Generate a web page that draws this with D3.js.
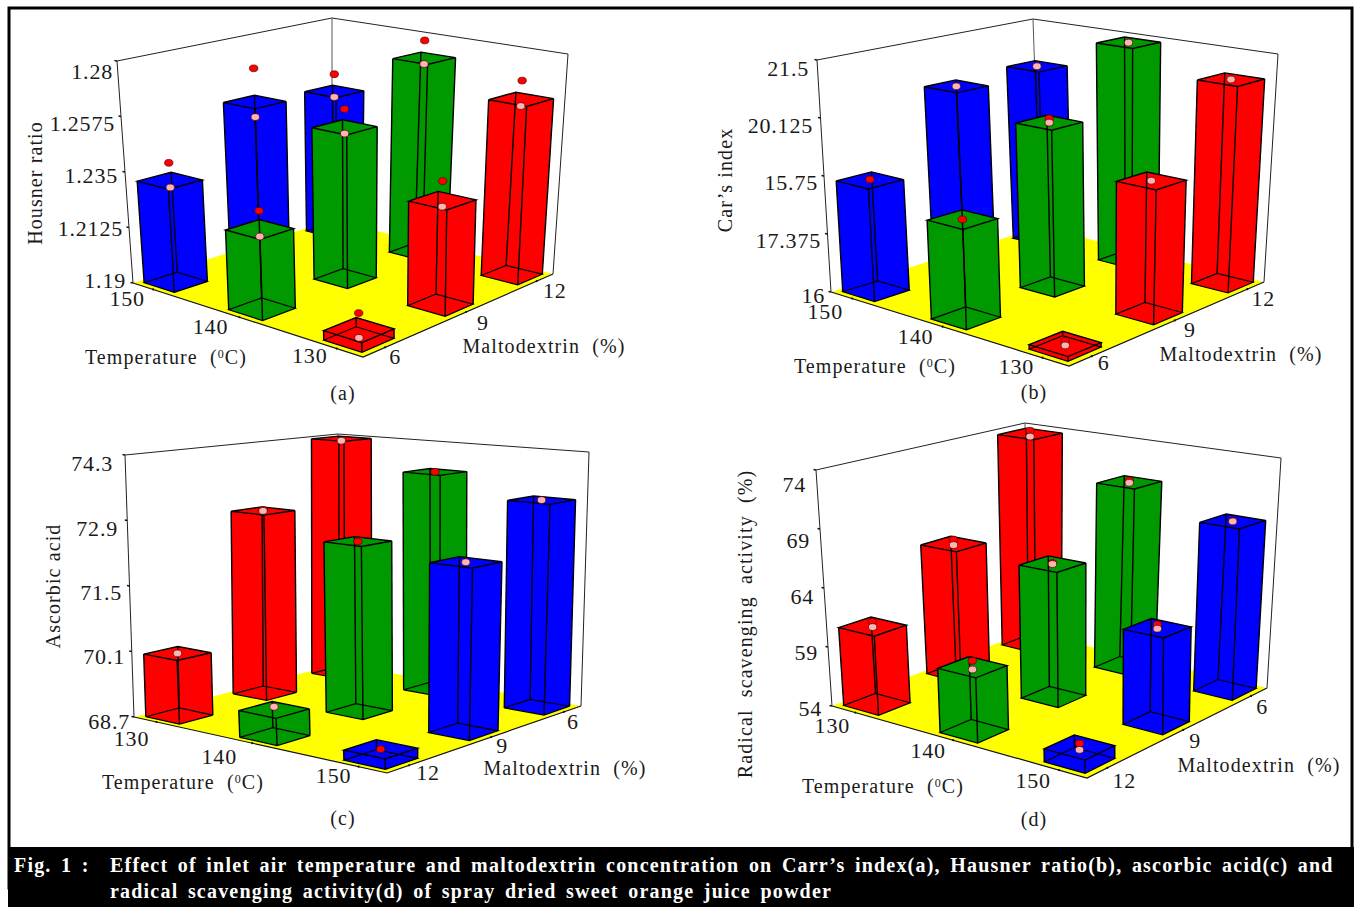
<!DOCTYPE html>
<html>
<head>
<meta charset="utf-8">
<style>
  html, body { margin: 0; padding: 0; background: #fff; }
  svg { display: block; }
  text { font-family: "Liberation Serif", serif; fill: #1a1a1a; }
</style>
<script src="https://d3js.org/d3.v7.min.js"></script>
</head>
<body>
<svg id="chart" width="1354" height="907"></svg>
<script>
// Values. Rows = temperature in axis order, columns = maltodextrin in axis order.
var tempDesc = [150, 140, 130];
var tempAsc = [130, 140, 150];
var maltoAsc = [6, 9, 12];
var maltoDesc = [12, 9, 6];

var housnerTicks = ["1.19", "1.2125", "1.235", "1.2575", "1.28"];
var housnerBars = [[1.2312, 1.2546, 1.251], [1.221, 1.2516, 1.272], [1.1935, 1.2308, 1.2618]];
var housnerHigh = [[1.2384, 1.2688, 1.2585], [1.2282, 1.259, 1.2795], [1.1997, 1.2384, 1.2694]];
var housnerLow = [[1.2284, 1.2482, 1.2485], [1.2182, 1.249, 1.2695], [1.1905, 1.2284, 1.259]];

var carrTicks = ["16", "17.375", "15.75", "20.125", "21.5"]; // as printed in the figure
var carrBars = [[18.63, 20.39, 20.45], [18.25, 19.93, 21.42], [16.1, 19.05, 20.9]];
var carrHigh = [[18.65, null, null], [18.25, 20.03, null], [16.16, null, null]];
var carrLow = [[null, 20.39, 20.45], [null, 19.93, 21.42], [16.06, 19.05, 20.9]];

var ascorbicTicks = ["68.7", "70.1", "71.5", "72.9", "74.3"];
var ascorbicBars = [[70.04, 72.82, 74.27], [69.25, 72.39, 73.67], [68.9, 72.23, 73.25]];
var ascorbicHigh = [[null, 72.84, null], [null, 72.39, 73.67], [68.9, null, null]];
var ascorbicLow = [[70.04, 72.82, 74.22], [69.31, null, null], [null, 72.23, 73.25]];

var radicalTicks = ["54", "59", "64", "69", "74"];
var radicalBars = [[60.6, 65.5, 73.7], [59.2, 65.4, 70.6], [55.0, 61.8, 68.6]];
var radicalHigh = [[61.0, 65.9, 74.0], [59.7, 65.5, 70.75], [55.3, 62.1, 68.65]];
var radicalLow = [[60.55, 65.4, 73.45], [59.0, 65.4, 70.55], [54.8, 61.75, 68.6]];

var barColors = { 130: "#ff0000", 140: "#009900", 150: "#0000ff" };

// page layout of each panel: corners of the floor and of the plane above it
var panels = [
  {
    title: "Housner ratio", tag: "(a)", temps: tempDesc, maltos: maltoAsc, ticks: housnerTicks,
    bars: housnerBars, high: housnerHigh, low: housnerLow,
    floor: [[133, 283], [363, 357], [553, 274], [332, 220]],
    roof: [[117, 61], [360, 108], [568, 54], [332, 18]],
    tickDx: [-7, -6, -7, -6, -4], tickDy: [-3, 1, 3, 7, 10],
    tempOff: [[-26, 9], [-29, 9], [-27, 7]], maltoOff: [[10, 9], [17, 10], [18, 9]],
    titlePos: [35, 183], tempPos: [166, 357], maltoPos: [544, 346], tagPos: [343, 393]
  },
  {
    title: "Car\u2019s index", tag: "(b)", temps: tempDesc, maltos: maltoAsc, ticks: carrTicks,
    bars: carrBars, high: carrHigh, low: carrLow,
    floor: [[831, 292], [1069, 366], [1264, 282], [1040, 227]],
    roof: [[817, 60], [1068, 108], [1278, 54], [1033, 19]],
    tickDx: [-6, -6.5, -6, -7.5, -8], tickDy: [3, 6, 6, 7, 8],
    tempOff: [[-27, 13], [-27, 10], [-26, 9]], maltoOff: [[12, 6], [15, 9], [16, 9]],
    titlePos: [725, 180], tempPos: [875, 366], maltoPos: [1241, 354], tagPos: [1034, 392]
  },
  {
    title: "Ascorbic acid", tag: "(c)", temps: tempAsc, maltos: maltoDesc, ticks: ascorbicTicks,
    bars: ascorbicBars, high: ascorbicHigh, low: ascorbicLow,
    floor: [[134, 717], [387, 773], [581, 706], [338, 664]],
    roof: [[125, 455], [385, 482], [589, 452], [338, 434]],
    tickDx: [-4, -6.75, -7.5, -9.25, -12], tickDy: [4, 4.5, 6, 7.5, 8],
    tempOff: [[-25, 16], [-33, 13], [-25, 9]], maltoOff: [[19, 7], [11, 8.5], [9, 9]],
    titlePos: [53, 586], tempPos: [183, 782], maltoPos: [565, 768], tagPos: [343, 818]
  },
  {
    title: "Radical  scavenging  activity  (%)", tag: "(d)", temps: tempAsc, maltos: maltoDesc, ticks: radicalTicks,
    bars: radicalBars, high: radicalHigh, low: radicalLow,
    floor: [[832, 706], [1087, 778], [1267, 688], [1027, 632]],
    roof: [[816, 470], [1083, 512], [1281, 458], [1025, 423]],
    tickDx: [-10, -10, -10, -10, -10], tickDy: [2, 5, 8, 11, 14],
    tempOff: [[-23, 13], [-25, 10], [-26, 10]], maltoOff: [[17, 12], [12, 10], [11, 10]],
    titlePos: [745, 624], tempPos: [883, 786], maltoPos: [1259, 765], tagPos: [1034, 819]
  }
];

var captionHead = "Fig. 1 :";
var captionLines = [
  "Effect of inlet air temperature and maltodextrin concentration on Carr\u2019s index(a), Hausner ratio(b), ascorbic acid(c) and",
  "radical scavenging activity(d) of spray dried sweet orange juice powder"
];

var svg = d3.select("#chart");
var line = d3.line();

// unit square -> quadrilateral, keeps the perspective of the original plot
function squareToQuad(q) {
  var dx1 = q[1][0] - q[2][0], dx2 = q[3][0] - q[2][0], sx = q[0][0] - q[1][0] + q[2][0] - q[3][0];
  var dy1 = q[1][1] - q[2][1], dy2 = q[3][1] - q[2][1], sy = q[0][1] - q[1][1] + q[2][1] - q[3][1];
  var det = dx1 * dy2 - dx2 * dy1;
  var g = (sx * dy2 - dx2 * sy) / det, h = (dx1 * sy - sx * dy1) / det;
  var a = q[1][0] - q[0][0] + g * q[1][0], b = q[3][0] - q[0][0] + h * q[3][0];
  var d = q[1][1] - q[0][1] + g * q[1][1], e = q[3][1] - q[0][1] + h * q[3][1];
  return function(u, v) {
    var t = g * u + h * v + 1;
    return [(a * u + b * v + q[0][0]) / t, (d * u + e * v + q[0][1]) / t];
  };
}

function drawPanel(p) {
  var g = svg.append("g");
  var floorAt = squareToQuad(p.floor), roofAt = squareToQuad(p.roof);
  var lo = +p.ticks[0], hi = +p.ticks[p.ticks.length - 1];
  var z = d3.scaleLinear().domain([lo, hi]).range([0, 1]);
  var tickZ = d3.scalePoint().domain(p.ticks).range([0, 1]);
  var x = d3.scalePoint().domain(p.temps).range([0.1, 0.9]);
  var y = d3.scalePoint().domain(p.maltos).range([0.1, 0.9]);
  var half = 0.074;

  function project(u, v, w) {
    var a = floorAt(u, v), b = roofAt(u, v);
    return [a[0] + (b[0] - a[0]) * w, a[1] + (b[1] - a[1]) * w];
  }

  // walls
  g.append("path").attr("d", line([p.floor[0], p.roof[0], p.roof[3], p.roof[2], p.floor[2]]))
    .attr("fill", "#fff").attr("stroke", "#222").attr("stroke-width", 1);
  g.append("path").attr("d", line([p.roof[3], p.floor[3]]))
    .attr("stroke", "#555").attr("stroke-width", 1);

  // floor
  g.append("path").attr("d", line(p.floor) + "Z").attr("fill", "#ffff00");
  g.append("path").attr("d", line([p.floor[0], p.floor[1], p.floor[2]]))
    .attr("fill", "none").attr("stroke", "#111").attr("stroke-width", 1.2);

  // value axis ticks and labels
  p.ticks.forEach(function(t, i) {
    var pt = project(0, 0, tickZ(t));
    g.append("path").attr("d", line([pt, [pt[0] - 2.5, pt[1] - 0.5]]))
      .attr("stroke", "#111").attr("stroke-width", 1.4);
    g.append("text").attr("class", "tick").attr("x", pt[0] + p.tickDx[i]).attr("y", pt[1] + p.tickDy[i])
      .attr("dy", "0.35em").attr("text-anchor", "end").text(t);
  });

  // floor ticks and category labels
  p.temps.forEach(function(t, i) {
    var pt = floorAt(x(t), 0);
    g.append("circle").attr("cx", pt[0]).attr("cy", pt[1]).attr("r", 1.1).attr("fill", "#111");
    g.append("text").attr("class", "tick").attr("x", pt[0] + p.tempOff[i][0]).attr("y", pt[1] + p.tempOff[i][1])
      .attr("dy", "0.35em").attr("text-anchor", "middle").text(t);
  });
  p.maltos.forEach(function(m, i) {
    var pt = floorAt(1, y(m));
    g.append("circle").attr("cx", pt[0]).attr("cy", pt[1]).attr("r", 1.1).attr("fill", "#111");
    g.append("text").attr("class", "tick").attr("x", pt[0] + p.maltoOff[i][0]).attr("y", pt[1] + p.maltoOff[i][1])
      .attr("dy", "0.35em").attr("text-anchor", "middle").text(m);
  });

  // bars, far ones first
  p.temps.forEach(function(t, i) {
    d3.range(p.maltos.length - 1, -1, -1).forEach(function(j) {
      var m = p.maltos[j], u = x(t), v = y(m), w = z(p.bars[i][j]);
      var c = [[u - half, v - half], [u + half, v - half], [u + half, v + half], [u - half, v + half]];
      var base = c.map(function(o) { return project(o[0], o[1], 0); });
      var top = c.map(function(o) { return project(o[0], o[1], w); });

      g.append("path").attr("d", line(d3.polygonHull(base.concat(top))) + "Z").attr("fill", barColors[t]);
      g.append("path").attr("d", line(base) + "Z").attr("fill", "none").attr("stroke", "#000").attr("stroke-width", 1.2);
      g.append("path").attr("d", line(top) + "Z").attr("fill", "none").attr("stroke", "#000").attr("stroke-width", 1.4);
      base.forEach(function(b, k) {
        g.append("path").attr("d", line([b, top[k]])).attr("stroke", "#000").attr("stroke-width", 1.4);
      });

      [[p.high[i][j], "#ff0000"], [p.low[i][j], "#ffb4b4"]].forEach(function(dot) {
        if (dot[0] === null) return;
        var pt = project(u, v, z(dot[0]));
        g.append("ellipse").attr("cx", pt[0]).attr("cy", pt[1]).attr("rx", 4.2).attr("ry", 3.4)
          .attr("fill", dot[1]).attr("stroke", "#500").attr("stroke-width", 0.7);
      });
    });
  });

  // titles
  g.append("text").attr("class", "label").attr("text-anchor", "middle").attr("dy", "0.35em")
    .attr("transform", "translate(" + p.titlePos + ") rotate(-90)").text(p.title);
  var tempTitle = g.append("text").attr("class", "label").attr("text-anchor", "middle").attr("dy", "0.35em")
    .attr("x", p.tempPos[0]).attr("y", p.tempPos[1]);
  tempTitle.append("tspan").text("Temperature  (");
  tempTitle.append("tspan").attr("font-size", 12).attr("dy", -6).text("0");
  tempTitle.append("tspan").attr("dy", 6).text("C)");
  g.append("text").attr("class", "label").attr("text-anchor", "middle").attr("dy", "0.35em")
    .attr("x", p.maltoPos[0]).attr("y", p.maltoPos[1]).text("Maltodextrin  (%)");
  g.append("text").attr("class", "label").attr("text-anchor", "middle").attr("dy", "0.35em")
    .attr("x", p.tagPos[0]).attr("y", p.tagPos[1]).text(p.tag);
}

// frame
svg.append("rect").attr("x", 9).attr("y", 8).attr("width", 1343).attr("height", 880)
  .attr("fill", "#fff").attr("stroke", "#000").attr("stroke-width", 3);

panels.forEach(drawPanel);

svg.selectAll("text.tick").attr("font-size", 22).attr("letter-spacing", 0.8);
svg.selectAll("text.label").attr("font-size", 20).attr("letter-spacing", 1.1).style("white-space", "pre");

// caption bar
svg.append("rect").attr("x", 8).attr("y", 847).attr("width", 1346).attr("height", 60).attr("fill", "#000");
var caption = svg.append("g").attr("font-weight", "bold").attr("font-size", 20).attr("letter-spacing", 1.2);
caption.append("text").attr("x", 14).attr("y", 872).attr("word-spacing", 3.3).style("fill", "#fff").text(captionHead);
caption.selectAll("text.line").data(captionLines).enter().append("text").attr("class", "line")
  .attr("x", 110).attr("y", function(d, i) { return 872 + i * 25.5; })
  .attr("word-spacing", 3.3).style("fill", "#fff").text(function(d) { return d; });
</script>
</body>
</html>
